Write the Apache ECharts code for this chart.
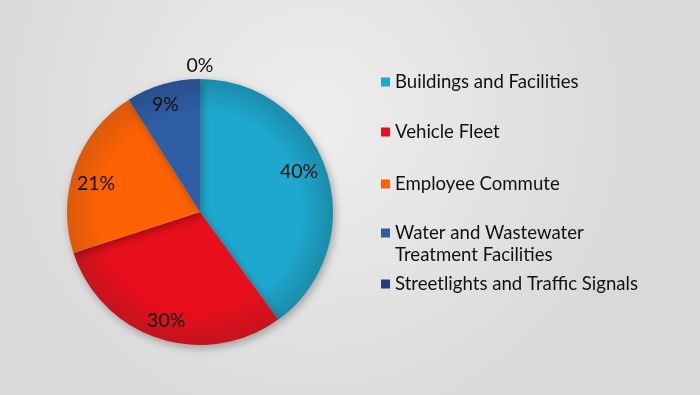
<!DOCTYPE html>
<html><head><meta charset="utf-8">
<script src="https://cdn.jsdelivr.net/npm/echarts@6/dist/echarts.min.js"></script>
<style>html,body{margin:0;padding:0;}#c{width:700px;height:395px;}</style>
</head><body><div id="c"></div>
<script>
const categories = ['Buildings and Facilities','Vehicle Fleet','Employee Commute','Water and Wastewater\nTreatment Facilities','Streetlights and Traffic Signals'];
const values = [40, 30, 21, 9, 0];
const colors = ['#1FA8CF','#E60F1B','#FC6204','#2E5DA3','#2D3B7C'];
const edgeColors = ['#1A8CAA','#C4141F','#DC5A0C','#2A4F8C','#263266'];
const legendTops = [66, 116, 168, 217, 268];
const labelOffsets = [[-5,-6],[0,5],[-1,9],[-4,-2],[0,0]];

const chart = echarts.init(document.getElementById('c'));
const FONT = 'Lato';
const cx = 200, cy = 212, R = 133;

const sectorData = categories.map((n,i)=>({name:n, value:values[i], itemStyle:{color:{type:'radial',x:cx,y:cy,r:R,global:true,colorStops:[{offset:0,color:colors[i]},{offset:0.75,color:colors[i]},{offset:1,color:edgeColors[i]}]}}}));
const labelData = categories.map((n,i)=>({name:n, value:values[i], label:{show: values[i] > 0, offset: labelOffsets[i]}}));
const zeroData = categories.map((n,i)=>({name:n, value:values[i], label:{show: values[i] === 0}}));

const legends = categories.map((n,i)=>({
  data:[{name:n, itemStyle:{color:colors[i]}}],
  orient:'vertical', left:376, top:legendTops[i],
  icon: i===3 ? 'path://M0,0L9,0L9,9L0,9Z M0,30L0.01,31L0,31Z' : 'rect',
  itemWidth:9, itemHeight: i===3 ? 31 : 9, itemGap:6,
  selectedMode:false,
  textStyle:{fontFamily:FONT, fontSize:18.6, color:'#111', lineHeight:22}
}));

chart.setOption({
  backgroundColor:{type:'radial',x:0.45,y:0.3,r:0.85,colorStops:[{offset:0,color:'#EEEEEE'},{offset:1,color:'#D9D9D9'}]},
  animation:false,
  color: colors,
  legend: legends,
  series:[
    {type:'pie', center:[cx,cy], radius:[0,R], startAngle:90, clockwise:true,
     label:{show:false}, labelLine:{show:false}, silent:true,
     itemStyle:{shadowBlur:8, shadowOffsetX:2, shadowOffsetY:3, shadowColor:'rgba(0,0,0,0.3)'},
     data: sectorData},
    {type:'pie', center:[cx,cy], radius:[R*0.6,R], startAngle:90, clockwise:true, silent:true,
     itemStyle:{color:'rgba(0,0,0,0)'}, labelLine:{show:false},
     label:{position:'inside', formatter:'{c}%', fontFamily:FONT, fontSize:19.5, color:'#111'},
     data: labelData},
    {type:'pie', center:[cx,cy], radius:[R,R*1.15], startAngle:90, clockwise:true, silent:true,
     itemStyle:{color:'rgba(0,0,0,0)'}, labelLine:{show:false},
     label:{position:'inside', formatter:'{c}%', fontFamily:FONT, fontSize:19.5, color:'#111'},
     data: zeroData}
  ]
});
</script></body></html>
